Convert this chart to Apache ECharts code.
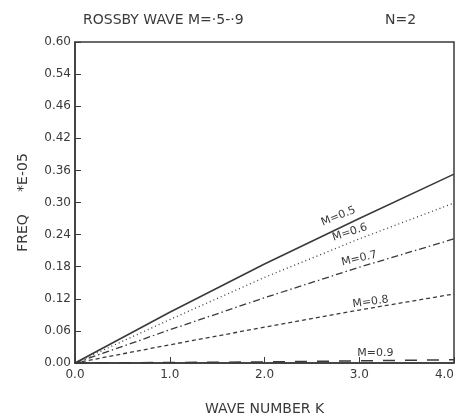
<!DOCTYPE html>
<html><head><meta charset="utf-8">
<script src="https://cdn.jsdelivr.net/npm/echarts@6/dist/echarts.min.js"></script>
<style>html,body{margin:0;padding:0;background:#fff}#c{width:457px;height:415px}</style>
</head><body><div id="c"></div>
<script>
var waveK = [0, 1, 2, 3, 4];
var m05 = [0, 0.095, 0.185, 0.270, 0.353];
var m06 = [0, 0.081, 0.160, 0.232, 0.299];
var m07 = [0, 0.062, 0.122, 0.179, 0.232];
var m08 = [0, 0.034, 0.067, 0.099, 0.129];
var m09 = [0, 0.001, 0.002, 0.004, 0.006];
var yTickLabels = ['0.00','0.06','0.12','0.18','0.24','0.30','0.36','0.42','0.46','0.54','0.60'];
var xTickLabels = ['0.0','1.0','2.0','3.0','4.0'];
var seriesNames = ['M=0.5','M=0.6','M=0.7','M=0.8','M=0.9'];
var labelAt = [[2.78,0.274,22],[2.9,0.244,18],[3.0,0.195,13],[3.12,0.114,8],[3.17,0.019,0]];

var ink = '#3a3a3a';
var font = 'DejaVu Sans';
function pairs(v){ return waveK.map(function(k,i){return [k, v[i]];}); }
var styles = [
  {type:'solid', width:1.6},
  {type:[1,3], width:1.3},
  {type:[7,3,1.5,3], width:1.3},
  {type:[4,3], width:1.3},
  {type:[12,10], width:1.5}
];
var vals = [m05,m06,m07,m08,m09];
var series = vals.map(function(v,i){
  return {
    type:'line', name:seriesNames[i], data:pairs(v), symbol:'none', smooth:false,
    lineStyle:{color:ink, type:styles[i].type, width:styles[i].width},
    markPoint:{symbol:'circle', symbolSize:0, silent:true,
      data:[{coord:[labelAt[i][0], labelAt[i][1]], value:seriesNames[i]}],
      label:{show:true, formatter:seriesNames[i], color:ink, fontFamily:font, fontSize:11, rotate:labelAt[i][2], position:'inside'}}
  };
});
var chart = echarts.init(document.getElementById('c'), null, {renderer:'canvas'});
chart.setOption({
  animation:false,
  backgroundColor:'#fff',
  title:[
    {text:'ROSSBY WAVE M=·5-·9', left:78, top:8, textStyle:{fontFamily:font, fontSize:14, fontWeight:'normal', color:ink}},
    {text:'N=2', left:380, top:8, textStyle:{fontFamily:font, fontSize:14, fontWeight:'normal', color:ink}}
  ],
  grid:{left:75, right:3, top:42, bottom:52, containLabel:false, outerBoundsMode:'none', show:true, borderColor:ink, borderWidth:1.5},
  xAxis:{type:'value', min:0, max:4, interval:1,
    name:'WAVE NUMBER K', nameLocation:'middle', nameGap:39,
    nameTextStyle:{fontFamily:font, fontSize:14, color:ink},
    axisLine:{lineStyle:{color:ink, width:1.5}},
    axisTick:{inside:true, length:6, lineStyle:{color:ink}},
    splitLine:{show:false},
    axisLabel:{fontFamily:font, fontSize:12, color:ink, margin:6, alignMaxLabel:'right', hideOverlap:false,
      formatter:function(v){var i=Math.round(v); return xTickLabels[i]||'';}}
  },
  yAxis:{type:'value', min:0, max:0.6, interval:0.06,
    name:'FREQ     *E-05', nameLocation:'middle', nameGap:45, nameRotate:90,
    nameTextStyle:{fontFamily:font, fontSize:14, color:ink},
    axisLine:{lineStyle:{color:ink, width:1.5}},
    axisTick:{inside:true, length:6, lineStyle:{color:ink}},
    splitLine:{show:false},
    axisLabel:{fontFamily:font, fontSize:12, color:ink, margin:4,
      formatter:function(v){var i=Math.round(v/0.06); return yTickLabels[i]||'';}}
  },
  series:series
});
</script></body></html>
